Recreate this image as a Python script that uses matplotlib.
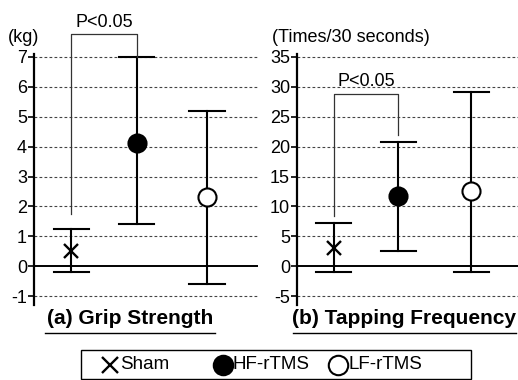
import matplotlib
matplotlib.use("Agg")
import matplotlib.pyplot as plt
from matplotlib.lines import Line2D
from matplotlib.patches import Rectangle

plt.rcParams["font.family"] = ["Liberation Sans", "DejaVu Sans"]

groups = ["Sham", "HF-rTMS", "LF-rTMS"]
markers = ["x", "o", "o"]
faces = ["black", "black", "white"]

grip_mean = [0.5, 4.12, 2.3]
grip_upper = [1.25, 7.0, 5.2]
grip_lower = [-0.19, 1.4, -0.6]
grip_ticks = [-1, 0, 1, 2, 3, 4, 5, 6, 7]

tap_mean = [3.1, 11.8, 12.6]
tap_upper = [7.3, 20.8, 29.2]
tap_lower = [-0.9, 2.6, -0.9]
tap_ticks = [-5, 0, 5, 10, 15, 20, 25, 30, 35]

W, H = 518, 380
fig = plt.figure(figsize=(W / 100, H / 100), dpi=100)


def px_axes(x0, x1, y0, y1):
    return fig.add_axes([x0 / W, 1 - y1 / H, (x1 - x0) / W, (y1 - y0) / H])


def marker_kw(i, big=13, small=10):
    if markers[i] == "x":
        return dict(marker="x", ms=small, mew=1.7, color="black")
    return dict(marker="o", ms=big, mew=1.5, mfc=faces[i], mec="black")


def draw_panel(ax, mean, upper, lower, ticks, ylim, xpos):
    ax.set_xlim(0.45, 3.75)
    ax.set_ylim(*ylim)
    for t in ticks:
        if t == 0:
            ax.axhline(0, color="black", lw=1.4, zorder=1)
        else:
            ax.axhline(t, color="#444444", lw=0.8, ls=(0, (2.5, 2)), zorder=1)
    for i, x in enumerate(xpos):
        ax.plot([x, x], [lower[i], upper[i]], color="black", lw=1.5, zorder=2)
        for cap in (lower[i], upper[i]):
            ax.plot([x - 0.26, x + 0.26], [cap, cap], color="black", lw=1.5, zorder=2)
        ax.plot(x, mean[i], ls="none", zorder=3, **marker_kw(i))
    ax.set_yticks(ticks)
    ax.set_yticklabels([str(t) for t in ticks], fontsize=13)
    ax.set_xticks([])
    for s in ("top", "right", "bottom"):
        ax.spines[s].set_visible(False)
    ax.spines["left"].set_linewidth(1.6)
    ax.tick_params(axis="y", length=4, width=1.2, pad=1)


xpos_a = [1.0, 1.965, 3.0]
xpos_b = [1.0, 1.965, 3.05]

ax1 = px_axes(34, 258, 54, 305)
draw_panel(ax1, grip_mean, grip_upper, grip_lower, grip_ticks, (-1.3, 7.1), xpos_a)
ax2 = px_axes(297, 518, 54, 305)
draw_panel(ax2, tap_mean, tap_upper, tap_lower, tap_ticks, (-6.5, 35.5), xpos_b)

# significance brackets
ax1.plot([xpos_a[0], xpos_a[0], xpos_a[1], xpos_a[1]], [1.75, 7.76, 7.76, 7.0],
         color="#333333", lw=0.9, clip_on=False, zorder=2)
ax1.text((xpos_a[0] + xpos_a[1]) / 2, 7.86, "P<0.05", ha="center", va="bottom",
         fontsize=13)
ax2.plot([xpos_b[0], xpos_b[0], xpos_b[1], xpos_b[1]], [8.4, 28.8, 28.8, 22.0],
         color="#333333", lw=0.9, clip_on=False, zorder=2)
ax2.text((xpos_b[0] + xpos_b[1]) / 2, 29.5, "P<0.05", ha="center", va="bottom",
         fontsize=13)

# units
fig.text(8 / W, 1 - 37 / H, "(kg)", fontsize=13, va="center", ha="left")
fig.text(272 / W, 1 - 37 / H, "(Times/30 seconds)", fontsize=13, va="center", ha="left")

# panel titles with underline
fig.text(130 / W, 1 - 318 / H, "(a) Grip Strength", fontsize=15, fontweight="bold",
         ha="center", va="center")
fig.text(404 / W, 1 - 318 / H, "(b) Tapping Frequency", fontsize=15, fontweight="bold",
         ha="center", va="center")
fig.add_artist(Line2D([45 / W, 215 / W], [1 - 333 / H] * 2, color="black", lw=1.0))
fig.add_artist(Line2D([293 / W, 516 / W], [1 - 333 / H] * 2, color="black", lw=1.0))

# legend box drawn by hand to match the original spacing
fig.add_artist(Rectangle((81 / W, 1 - 379 / H), 390 / W, 29 / H, transform=fig.transFigure,
                         fill=False, edgecolor="black", lw=1.0))
legend_marker_x = [110, 223, 338]
legend_y = 1 - 364.5 / H
for i, name in enumerate(groups):
    mx = legend_marker_x[i]
    fig.add_artist(Line2D([mx / W], [legend_y], ls="none",
                          **marker_kw(i, big=14, small=11)))
    fig.text((mx + 10) / W, legend_y, name, fontsize=13.5, ha="left", va="center")

fig.savefig("out.png", dpi=100)
